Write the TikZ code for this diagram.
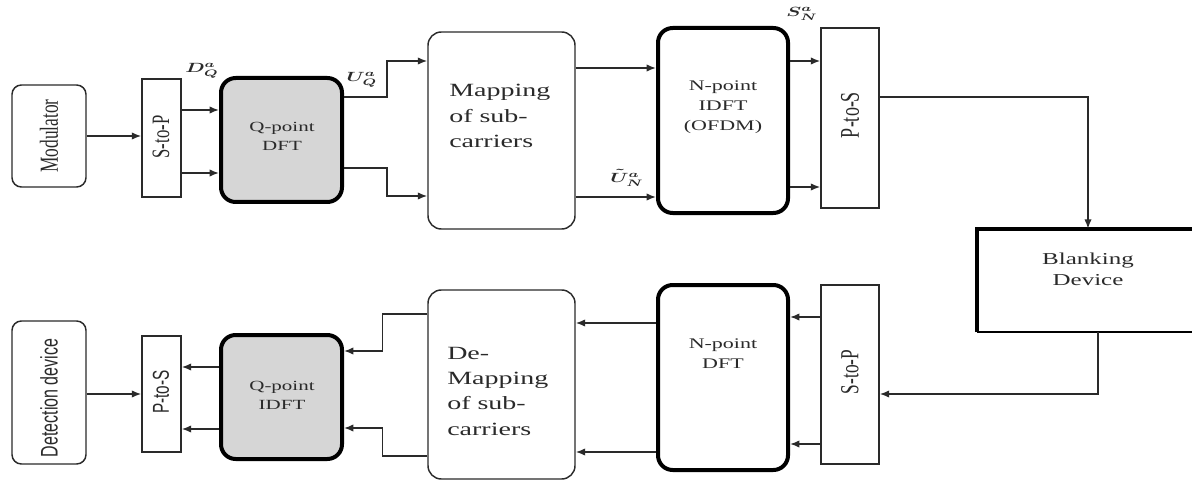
\documentclass[tikz,border=0pt]{standalone}
\usepackage{fontspec}
\usepackage{graphicx}
\setmainfont{Liberation Serif}
\newfontfamily\sansf{Liberation Sans}
\usetikzlibrary{arrows.meta,fit,calc}

% horizontal stretch used for all lettering
\newcommand\hstr[1]{\scalebox{1.5}[1]{#1}}
\newcommand\vstr[1]{\rotatebox{90}{\scalebox{1}[1.5]{#1}}}

\definecolor{ink}{HTML}{2A2A2A}
\definecolor{boxgray}{HTML}{D6D6D6}

\tikzset{
  thinbox/.style={draw=ink, line width=1.1pt, inner sep=0pt},
  thickbox/.style={draw=black, line width=3pt, inner sep=0pt},
  roundbox/.style={thinbox, rounded corners=7pt},
  biground/.style={thinbox, rounded corners=10pt},
  heavyround/.style={thickbox, rounded corners=11pt},
  grayround/.style={thickbox, rounded corners=11pt, fill=boxgray},
  lbl/.style={inner sep=0pt, text=ink},
  sig/.style={inner sep=0pt, text=ink, font=\boldmath},
  arr/.style={draw=ink, line width=1.1pt, -{Latex[length=7pt,width=5.5pt]}},
}

\begin{document}
\begin{tikzpicture}[x=0.75pt, y=-0.75pt]
\useasboundingbox (0,0) rectangle (1192,481);

% ---------------- transmitter chain ----------------
\node[roundbox, fit={(12,85) (86,187)}] (mod) {};
\node[thinbox, fit={(142,79) (181,197)}] (s2p) {};
\node[grayround, fit={(221,78) (342,202)}] (qdft) {};
\node[biground, fit={(428,32) (575,229)}] (map) {};
\node[heavyround, fit={(658,28) (788,213)}] (idft) {};
\node[thinbox, fit={(821,28) (879,208)}] (p2s) {};

% blanking device: heavy left/top edges, right edge runs off the page
\node[inner sep=0pt, fit={(977,229) (1200,332)}] (blank) {};
\draw[black, line width=3pt] (blank.south west) -- (blank.north west) -- (blank.north east);
\draw[black, line width=1.8pt] (blank.south west) -- (blank.south east);

% ---------------- receiver chain ----------------
\node[thinbox, fit={(821,285) (879,464)}] (s2pb) {};
\node[heavyround, fit={(658,285) (788,470)}] (ndft) {};
\node[biground, fit={(428,290) (575,479)}] (demap) {};
\node[grayround, fit={(221,335) (342,459)}] (qidft) {};
\node[thinbox, fit={(142,336) (181,452)}] (p2sb) {};
\node[roundbox, fit={(12,321) (86,464)}] (det) {};

% ---------------- lettering ----------------
\node[lbl] (tmod) at (49,136) {\vstr{\fontsize{13}{15}\selectfont Modulator}};
\node[lbl] (ts2p) at (161,137) {\vstr{\fontsize{12.5}{15}\selectfont S-to-P}};
\node[lbl] (tqdft) at (282,137) {\hstr{\fontsize{10.5}{14}\selectfont\begin{tabular}{@{}c@{}}Q-point\\DFT\end{tabular}}};
\node[lbl, anchor=west] (tmap) at (449,117) {\hstr{\fontsize{14}{19}\selectfont\begin{tabular}{@{}l@{}}Mapping\\of sub-\\carriers\end{tabular}}};
\node[lbl] (tidft) at (723,107) {\hstr{\fontsize{11}{15}\selectfont\begin{tabular}{@{}c@{}}N-point\\IDFT\\(OFDM)\end{tabular}}};
\node[lbl] (tp2s) at (850,115) {\vstr{\fontsize{13.5}{15}\selectfont P-to-S}};
\node[lbl] (tblank) at (1088,271) {\hstr{\fontsize{12.5}{16}\selectfont\begin{tabular}{@{}c@{}}Blanking\\Device\end{tabular}}};

\node[lbl] (ts2pb) at (850,372) {\vstr{\fontsize{13}{15}\selectfont S-to-P}};
\node[lbl] (tndft) at (723,354) {\hstr{\fontsize{11}{15}\selectfont\begin{tabular}{@{}c@{}}N-point\\DFT\end{tabular}}};
\node[lbl, anchor=west] (tdemap) at (447,392) {\hstr{\fontsize{14}{19}\selectfont\begin{tabular}{@{}l@{}}De-\\Mapping\\of sub-\\carriers\end{tabular}}};
\node[lbl] (tqidft) at (282,396) {\hstr{\fontsize{10.5}{14}\selectfont\begin{tabular}{@{}c@{}}Q-point\\IDFT\end{tabular}}};
\node[lbl] (tp2sb) at (161,392) {\vstr{\sansf\fontsize{11.5}{14}\selectfont P-to-S}};
\node[lbl] (tdet) at (49,398) {\vstr{\sansf\fontsize{12}{14}\selectfont Detection device}};

% signal labels
\node[sig] (dq) at (202,71) {\hstr{$D_Q^a$}};
\node[sig] (uq) at (362,80) {\hstr{$U_Q^a$}};
\node[sig] (un) at (627,178) {\hstr{$\tilde{U}_N^a$}};
\node[sig] (sn) at (802,14) {\hstr{$S_N^a$}};

% ---------------- connectors: transmitter ----------------
\draw[arr] (mod.east) -- (mod.east -| s2p.west);
\draw[arr] (s2p.east |- 0,110) -- (qdft.west |- 0,110);
\draw[arr] (s2p.east |- 0,173) -- (qdft.west |- 0,173);
\draw[arr] (qdft.east |- 0,97) -- ++(43,0) |- (map.west |- 0,61);
\draw[arr] (qdft.east |- 0,168) -- ++(43,0) |- (map.west |- 0,196);
\draw[arr] (map.east |- 0,68) -- (idft.west |- 0,68);
\draw[arr] (map.east |- 0,197) -- (idft.west |- 0,197);
\draw[arr] (idft.east |- 0,61) -- (p2s.west |- 0,61);
\draw[arr] (idft.east |- 0,187) -- (p2s.west |- 0,187);
\draw[arr] (p2s.east |- 0,97) -| (blank.north -| 1088,0);

% ---------------- connectors: receiver ----------------
\draw[arr] (blank.south -| 1098,0) |- (s2pb.east |- 0,394);
\draw[arr] (s2pb.west |- 0,317) -- (ndft.east |- 0,317);
\draw[arr] (s2pb.west |- 0,444) -- (ndft.east |- 0,444);
\draw[arr] (ndft.west |- 0,323) -- (demap.east |- 0,323);
\draw[arr] (ndft.west |- 0,452) -- (demap.east |- 0,452);
\draw[arr] (demap.west |- 0,314) -- ++(-45,0) |- (qidft.east |- 0,351);
\draw[arr] (demap.west |- 0,456) -- ++(-45,0) |- (qidft.east |- 0,428);
\draw[arr] (qidft.west |- 0,367) -- (p2sb.east |- 0,367);
\draw[arr] (qidft.west |- 0,429) -- (p2sb.east |- 0,429);
\draw[arr] (det.east |- 0,394) -- (p2sb.west |- 0,394);
\end{tikzpicture}
\end{document}
